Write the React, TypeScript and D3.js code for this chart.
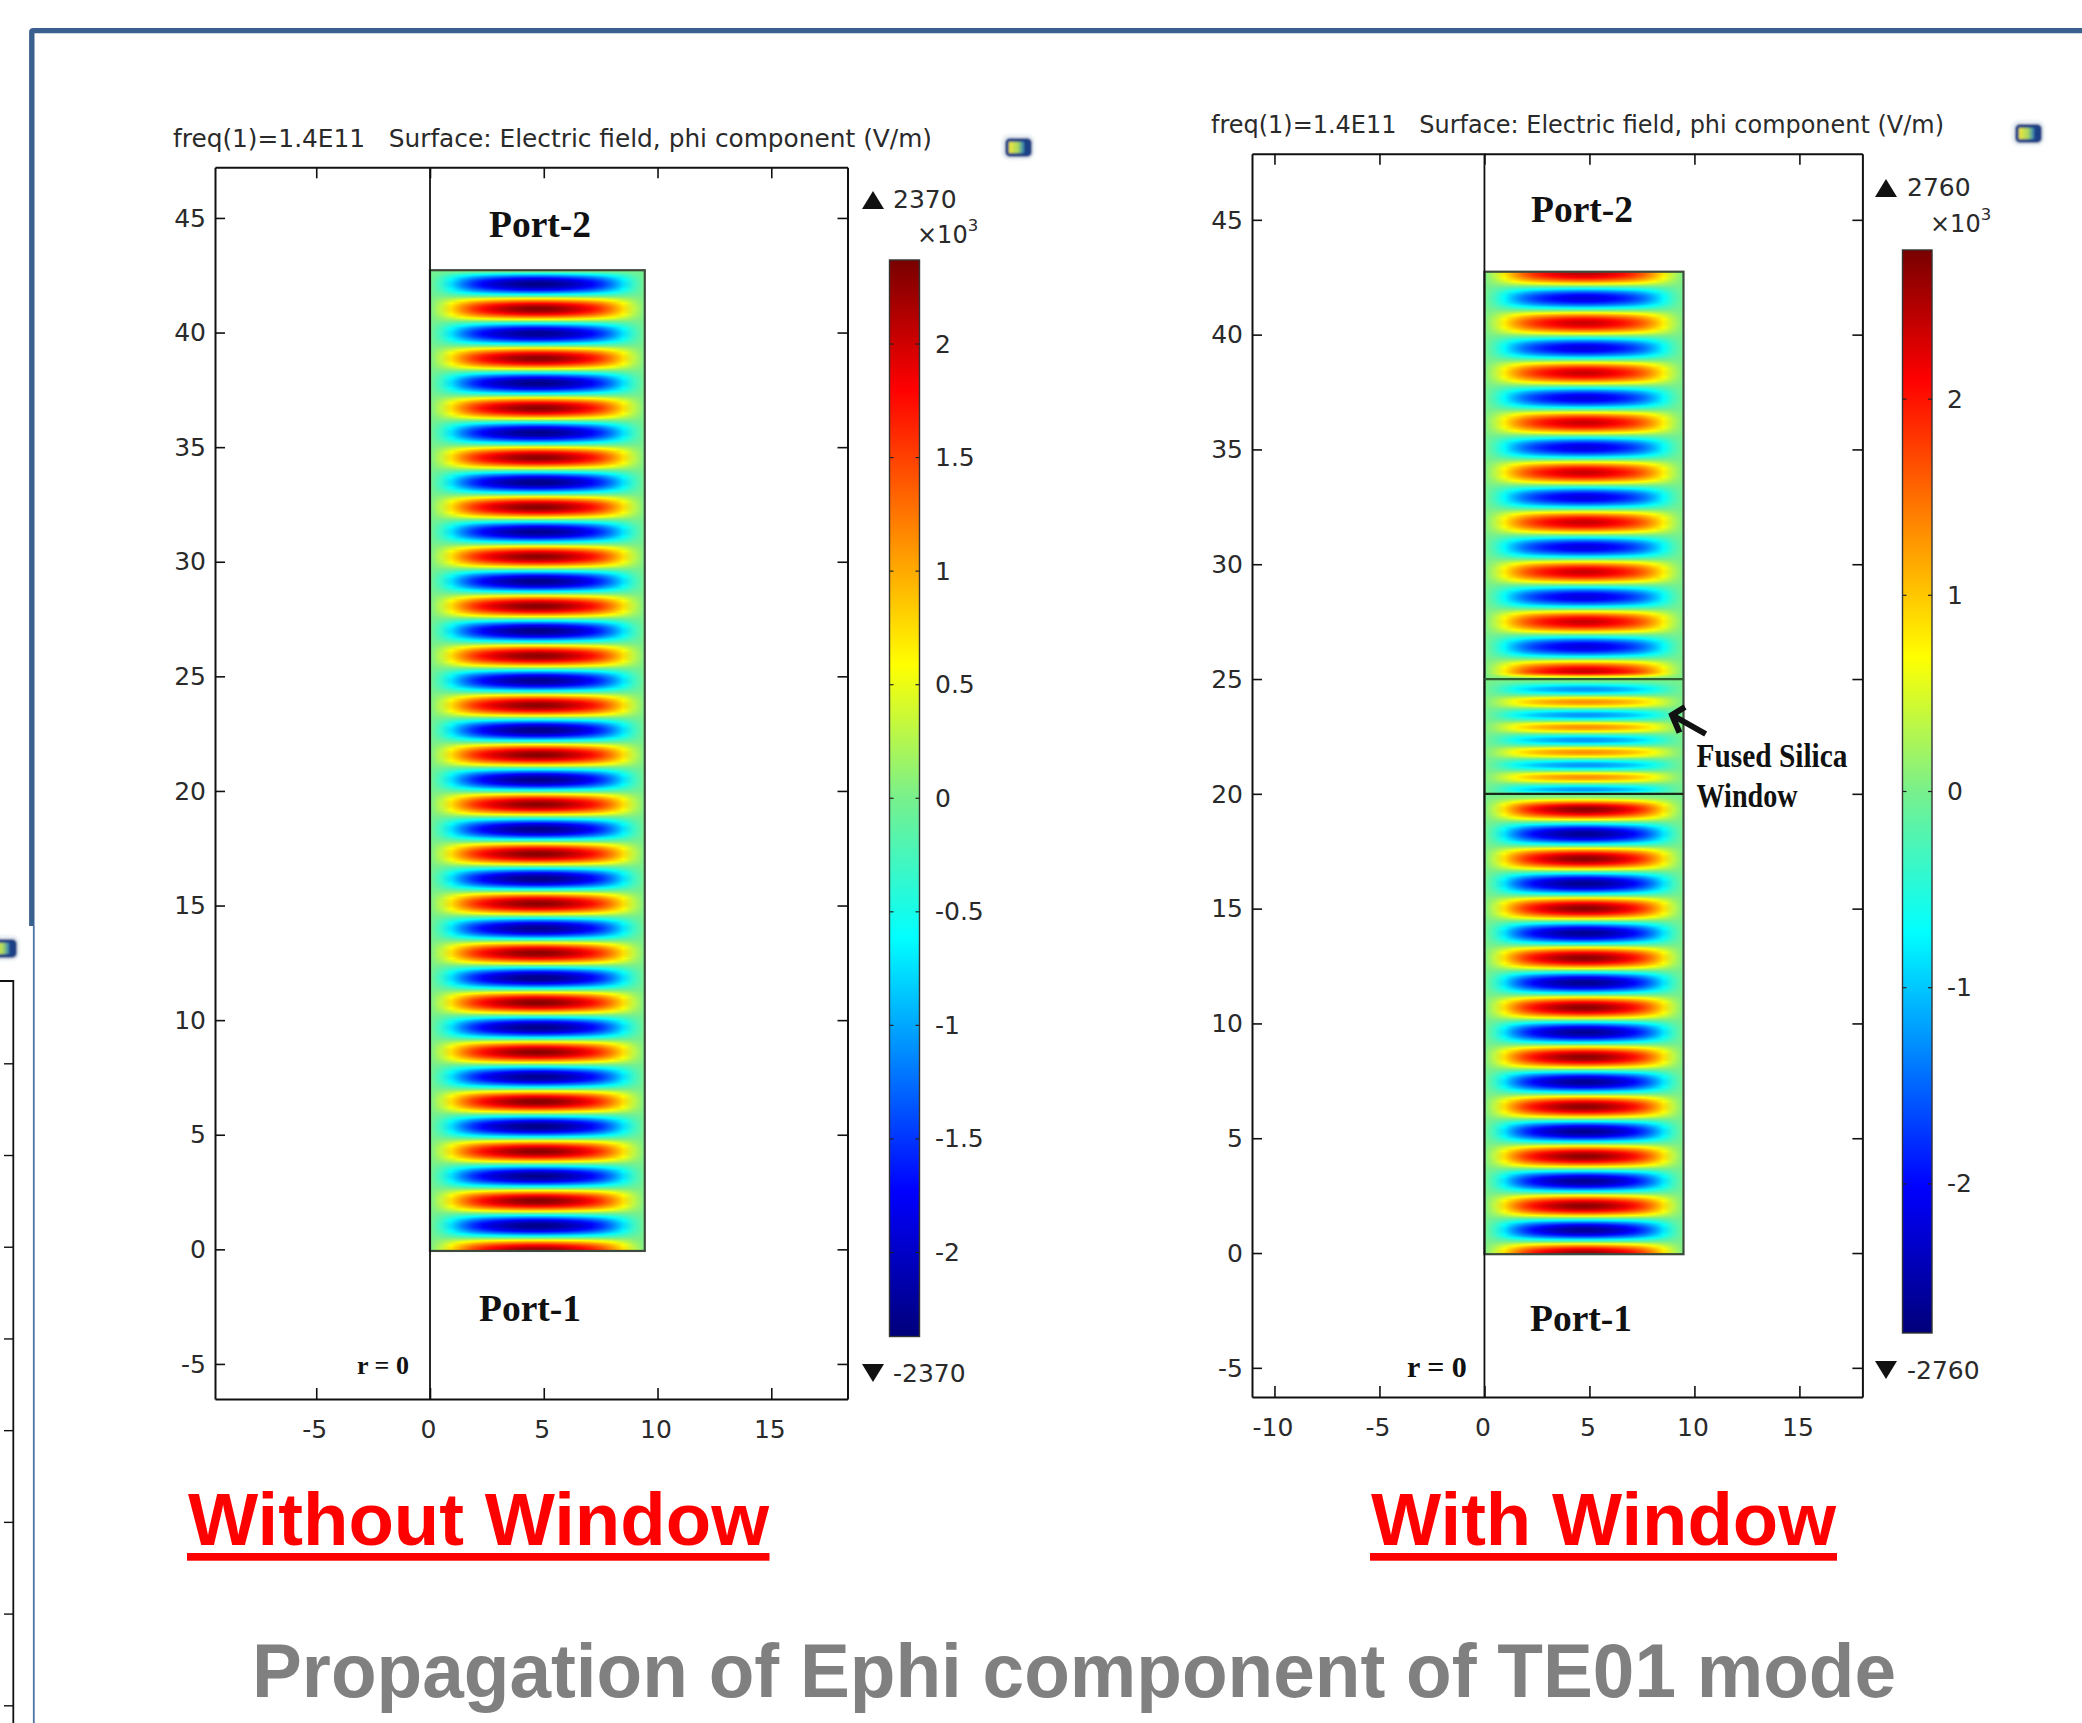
import { useEffect, useRef } from "react";
import * as d3 from "d3";

// Lobe centres (axial position, same units as the y axis) and peak field, x10^3 V/m
const leftBandZ = [
  -0.05, 1.03, 2.11, 3.19, 4.27, 5.36, 6.44, 7.52, 8.6, 9.68, 10.76, 11.84, 12.92, 14.0,
  15.08, 16.17, 17.25, 18.33, 19.41, 20.49, 21.57, 22.65, 23.73, 24.81, 25.89, 26.98, 28.06,
  29.14, 30.22, 31.3, 32.38, 33.46, 34.54, 35.62, 36.7, 37.79, 38.87, 39.95, 41.03, 42.11, 43.19,
];
const leftBandPeak = [
  2.25, -2.3, 2.3, -2.28, 2.28, -2.3, 2.3, -2.25, 2.28, -2.28, 2.3, -2.3, 2.28, -2.25,
  2.28, -2.3, 2.3, -2.28, 2.28, -2.28, 2.3, -2.3, 2.28, -2.25, 2.28, -2.3, 2.3, -2.28,
  2.28, -2.25, 2.3, -2.3, 2.28, -2.28, 2.28, -2.3, 2.28, -2.25, 2.3, -2.3, 2.2,
];
const rightBandZ = [
  -0.03, 1.0, 2.05, 3.13, 4.21, 5.29, 6.37, 7.45, 8.53, 9.61, 10.69, 11.77, 12.85, 13.93,
  15.01, 16.09, 17.17, 18.25, 19.33, 19.95,
  20.17, 20.72, 21.25, 21.81, 22.34, 22.9, 23.43, 24.0, 24.55, 24.97,
  25.32, 26.4, 27.49, 28.57, 29.66, 30.74, 31.82, 32.91, 33.99, 35.08, 36.16, 37.24,
  38.33, 39.41, 40.5, 41.58, 42.66, 43.74,
];
const rightBandPeak = [
  2.6, -2.6, 2.65, -2.6, 2.65, -2.62, 2.65, -2.6, 2.65, -2.6, 2.65, -2.62, 2.65, -2.6,
  2.65, -2.62, 2.65, -2.6, 2.65, 0,
  -1.25, 1.3, -1.25, 1.3, -1.25, 1.3, -1.25, 1.3, -1.25, 0,
  2.35, -2.2, 2.35, -2.2, 2.35, -2.2, 2.35, -2.2, 2.35, -2.2, 2.35, -2.2,
  2.35, -2.2, 2.35, -2.2, 2.4, -2.2,
];

// Cross-section of one lobe, fraction of the guide radius -> fraction of its peak
const radialU = [
  0, 0.05, 0.1, 0.15, 0.2, 0.25, 0.3, 0.35, 0.4, 0.45, 0.5,
  0.55, 0.6, 0.65, 0.7, 0.75, 0.8, 0.85, 0.9, 0.95, 1,
];
const radialShape = [
  0, 0.14, 0.33, 0.51, 0.66, 0.77, 0.85, 0.91, 0.96, 0.99, 1,
  0.99, 0.96, 0.91, 0.85, 0.77, 0.66, 0.51, 0.33, 0.14, 0,
];

// Colour table (fraction of the range)
const colorPos = [0, 0.135, 0.37, 0.5, 0.624, 0.75, 0.88, 1];
const colorHex = ["#00007a", "#0000ff", "#00ffff", "#78f08c", "#ffff00", "#ff8400", "#ff0000", "#780000"];

const leftXTicks = [-5, 0, 5, 10, 15];
const rightXTicks = [-10, -5, 0, 5, 10, 15];
const yTicks = [-5, 0, 5, 10, 15, 20, 25, 30, 35, 40, 45];
const leftBarTicks = [-2, -1.5, -1, -0.5, 0, 0.5, 1, 1.5, 2];
const rightBarTicks = [-2, -1, 0, 1, 2];
const cutOffTicks = [0, 1, 2, 3, 4, 5, 6, 7];

const textColor = "#2a2a2a";
const sansFont = "'DejaVu Sans', sans-serif";
const serifFont = "'Liberation Serif', serif";
const boldSans = "'Liberation Sans', Arial, sans-serif";

type PlotCfg = {
  id: string;
  frame: { x0: number; x1: number; y0: number; y1: number };
  xDomain: [number, number];
  yDomain: [number, number];
  xTicks: number[];
  guideR: number;
  guideTop: number;
  guideBottom: number;
  bandZ: number[];
  bandPeak: number[];
  maxLabel: number;
  title: { x: number; y: number; size: number; width: number };
  bar: { x0: number; x1: number; top: number; bottom: number; ticks: number[]; labelX: number };
  marks: { x: number; upY: number; downY: number; textX: number; upText: number; downText: number };
  exp: { x: number; y: number };
  rZero: { x: number; y: number; size: number };
  port2: { x: number; y: number };
  port1: { x: number; y: number };
  labelSize: number;
};

const color = d3.scaleLinear<string>().domain(colorPos).range(colorHex).clamp(true);

const drawPlot = (svg: any, cfg: PlotCfg) => {
  const { frame, bar, marks } = cfg;
  const x = d3.scaleLinear().domain(cfg.xDomain).range([frame.x0, frame.x1]);
  const y = d3.scaleLinear().domain(cfg.yDomain).range([frame.y1, frame.y0]);
  const g = svg.append("g");

  // Title
  g.append("text")
    .attr("x", cfg.title.x)
    .attr("y", cfg.title.y)
    .attr("font-family", sansFont)
    .attr("font-size", cfg.title.size)
    .attr("fill", textColor)
    .attr("textLength", cfg.title.width)
    .attr("lengthAdjust", "spacingAndGlyphs")
    .style("white-space", "pre")
    .text("freq(1)=1.4E11   Surface: Electric field, phi component (V/m)");

  // Field: one horizontal gradient per pixel row of the guide
  const defs = svg.append("defs");
  const phase = d3
    .scaleLinear()
    .domain(cfg.bandZ)
    .range(d3.range(cfg.bandZ.length))
    .clamp(true);
  const rowAmp = (z: number) => {
    const p = phase(z);
    const i = Math.min(Math.floor(p), cfg.bandZ.length - 2);
    return d3.interpolateNumber(cfg.bandPeak[i], cfg.bandPeak[i + 1])(d3.easeSinInOut(p - i));
  };
  const rows = d3.range(Math.round(y(cfg.guideTop)), Math.round(y(cfg.guideBottom)));
  const field = g.append("g").attr("shape-rendering", "crispEdges");
  rows.forEach((row) => {
    const amp = rowAmp(y.invert(row + 0.5));
    const id = `${cfg.id}-row-${row}`;
    const grad = defs.append("linearGradient").attr("id", id);
    radialU.forEach((u, k) => {
      grad
        .append("stop")
        .attr("offset", u)
        .attr("stop-color", color((((amp * radialShape[k]) / cfg.maxLabel) + 1) / 2));
    });
    field
      .append("rect")
      .attr("x", x(0))
      .attr("y", row)
      .attr("width", x(cfg.guideR) - x(0))
      .attr("height", 1)
      .attr("fill", `url(#${id})`);
  });

  // Guide outline
  g.append("rect")
    .attr("x", x(0))
    .attr("y", y(cfg.guideTop))
    .attr("width", x(cfg.guideR) - x(0))
    .attr("height", y(cfg.guideBottom) - y(cfg.guideTop))
    .attr("fill", "none")
    .attr("stroke", "#3d4a3d")
    .attr("stroke-width", 2.2);

  // Frame and axes
  const style = (sel: any, size: number) => {
    sel.selectAll("text").attr("font-family", sansFont).attr("font-size", size).attr("fill", textColor);
    sel.selectAll("line").attr("stroke", "#111").attr("stroke-width", 1.6);
    sel.selectAll("path").attr("stroke", "#111").attr("stroke-width", 2);
  };
  const axis = (gen: any, tx: number, ty: number, showText: boolean) => {
    const a = g.append("g").attr("transform", `translate(${tx},${ty})`).call(gen);
    style(a, cfg.labelSize);
    if (!showText) a.selectAll("text").remove();
    return a;
  };
  const fmt = (d: number) => String(d);
  axis(d3.axisBottom(x).tickValues(cfg.xTicks).tickSizeInner(-11).tickSizeOuter(0).tickPadding(21).tickFormat(fmt), 0, frame.y1, true)
    .selectAll("text")
    .attr("dx", -2);
  axis(d3.axisTop(x).tickValues(cfg.xTicks).tickSizeInner(-11).tickSizeOuter(0), 0, frame.y0, false);
  axis(d3.axisLeft(y).tickValues(yTicks).tickSizeInner(-10).tickSizeOuter(0).tickPadding(9).tickFormat(fmt), frame.x0, 0, true)
    .selectAll("text")
    .attr("dy", "0.33em");
  axis(d3.axisRight(y).tickValues(yTicks).tickSizeInner(-10).tickSizeOuter(0), frame.x1, 0, false);

  // r = 0 line
  g.append("line")
    .attr("x1", x(0))
    .attr("x2", x(0))
    .attr("y1", frame.y0)
    .attr("y2", frame.y1)
    .attr("stroke", "#111")
    .attr("stroke-width", 1.8);

  // Colour bar
  const barY = d3.scaleLinear().domain([-cfg.maxLabel, cfg.maxLabel]).range([bar.bottom, bar.top]);
  const barGrad = defs
    .append("linearGradient")
    .attr("id", `${cfg.id}-bar`)
    .attr("x1", 0)
    .attr("x2", 0)
    .attr("y1", 1)
    .attr("y2", 0);
  colorPos.forEach((p, k) => {
    barGrad.append("stop").attr("offset", p).attr("stop-color", colorHex[k]);
  });
  g.append("rect")
    .attr("x", bar.x0)
    .attr("y", bar.top)
    .attr("width", bar.x1 - bar.x0)
    .attr("height", bar.bottom - bar.top)
    .attr("fill", `url(#${cfg.id}-bar)`)
    .attr("stroke", "#333")
    .attr("stroke-width", 1.4);
  bar.ticks.forEach((t) => {
    [
      [bar.x0, bar.x0 + 4],
      [bar.x1 - 4, bar.x1],
    ].forEach(([a, b]) => {
      g.append("line")
        .attr("x1", a)
        .attr("x2", b)
        .attr("y1", barY(t))
        .attr("y2", barY(t))
        .attr("stroke", "#222")
        .attr("stroke-width", 1.2);
    });
  });
  const barAxis = g
    .append("g")
    .attr("transform", `translate(${bar.labelX},0)`)
    .call(d3.axisRight(barY).tickValues(bar.ticks).tickSize(0).tickPadding(0).tickFormat(fmt));
  barAxis.select(".domain").remove();
  style(barAxis, cfg.labelSize);
  barAxis.selectAll("text").attr("dy", "0.32em");

  // Max / min markers
  const tri = (xc: number, yTop: number, up: boolean) => {
    const w = 11;
    const h = 18;
    const pts = up
      ? [[xc - w, yTop + h], [xc + w, yTop + h], [xc, yTop]]
      : [[xc - w, yTop], [xc + w, yTop], [xc, yTop + h]];
    g.append("polygon").attr("points", pts.join(" ")).attr("fill", "#111");
  };
  tri(marks.x, marks.upY - 17, true);
  tri(marks.x, marks.downY - 18, false);
  const label = (tx: number, ty: number, t: string | number) =>
    g
      .append("text")
      .attr("x", tx)
      .attr("y", ty)
      .attr("font-family", sansFont)
      .attr("font-size", cfg.labelSize)
      .attr("fill", textColor)
      .text(t);
  label(marks.textX, marks.upY, marks.upText);
  label(marks.textX, marks.downY, marks.downText);
  const ex = label(cfg.exp.x, cfg.exp.y, "×10").attr("font-size", cfg.labelSize - 1);
  ex.append("tspan").attr("dy", -12).attr("font-size", cfg.labelSize * 0.66).text("3");

  // Annotations on the plot
  const serif = (tx: number, ty: number, t: string, size: number, width?: number) => {
    const el = g
      .append("text")
      .attr("x", tx)
      .attr("y", ty)
      .attr("font-family", serifFont)
      .attr("font-weight", "bold")
      .attr("font-size", size)
      .attr("fill", "#111")
      .style("white-space", "pre")
      .text(t);
    if (width) el.attr("textLength", width).attr("lengthAdjust", "spacingAndGlyphs");
    return el;
  };
  serif(cfg.port2.x, cfg.port2.y, "Port-2", 37, 102);
  serif(cfg.port1.x, cfg.port1.y, "Port-1", 37, 102);
  serif(cfg.rZero.x, cfg.rZero.y, "r = 0", cfg.rZero.size);

  return { x, y, g, serif };
};

const drawIcon = (svg: any, cx: number, cy: number) => {
  const g = svg.append("g").attr("transform", `translate(${cx},${cy})`).attr("filter", "url(#icon-soft)");
  g.append("rect").attr("x", -17).attr("y", -13).attr("width", 34).attr("height", 26).attr("rx", 8).attr("fill", "#dfe7ef").attr("opacity", 0.6);
  g.append("rect").attr("x", -13).attr("y", -9).attr("width", 27).attr("height", 19).attr("rx", 5).attr("fill", "#1c3f86");
  g.append("rect").attr("x", -9).attr("y", -5).attr("width", 15).attr("height", 11).attr("fill", "url(#icon-fill)");
};

const App = () => {
  const svgRef = useRef<SVGSVGElement | null>(null);

  useEffect(() => {
    d3.select(svgRef.current).selectAll("*").remove();
    const svg = d3.select(svgRef.current).attr("width", 2082).attr("height", 1723);

    const iconDefs = svg.append("defs");
    const iconGrad = iconDefs.append("linearGradient").attr("id", "icon-fill");
    iconGrad.append("stop").attr("offset", 0).attr("stop-color", "#f2e63a");
    iconGrad.append("stop").attr("offset", 0.6).attr("stop-color", "#a8d860");
    iconGrad.append("stop").attr("offset", 1).attr("stop-color", "#2f80c0");
    iconDefs.append("filter").attr("id", "icon-soft").append("feGaussianBlur").attr("stdDeviation", 1);

    // Slide border
    svg
      .append("path")
      .attr("d", "M31.8 926 V32 Q31.8 30.6 33.5 30.6 H2082")
      .attr("fill", "none")
      .attr("stroke", "#3a6090")
      .attr("stroke-width", 5.4);
    svg
      .append("line")
      .attr("x1", 33.8)
      .attr("x2", 33.8)
      .attr("y1", 926)
      .attr("y2", 1723)
      .attr("stroke", "#4d74a6")
      .attr("stroke-width", 1.8);

    // Edge of the plot that is cut off at the left
    const cutY = d3.scaleLinear().domain([0, 7]).range([1063.8, 1705.8]);
    svg
      .append("path")
      .attr("d", "M0 981 H13.3 V1723")
      .attr("fill", "none")
      .attr("stroke", "#111")
      .attr("stroke-width", 1.8);
    cutOffTicks.forEach((t) => {
      svg
        .append("line")
        .attr("x1", 4)
        .attr("x2", 13)
        .attr("y1", cutY(t))
        .attr("y2", cutY(t))
        .attr("stroke", "#111")
        .attr("stroke-width", 1.4);
    });
    drawIcon(svg, 3, 948);

    drawPlot(svg, {
      id: "left",
      frame: { x0: 215, x1: 847.5, y0: 167.3, y1: 1399 },
      xDomain: [-9.45, 18.35],
      yDomain: [-6.53, 47.21],
      xTicks: leftXTicks,
      guideR: 9.44,
      guideTop: 42.72,
      guideBottom: -0.07,
      bandZ: leftBandZ,
      bandPeak: leftBandPeak,
      maxLabel: 2.37,
      title: { x: 173, y: 147, size: 24, width: 759 },
      bar: { x0: 889.5, x1: 919.5, top: 260, bottom: 1336.5, ticks: leftBarTicks, labelX: 935 },
      marks: { x: 873, upY: 208, downY: 1382, textX: 893, upText: 2370, downText: -2370 },
      exp: { x: 917, y: 243 },
      rZero: { x: 357, y: 1374, size: 26 },
      port2: { x: 489, y: 237 },
      port1: { x: 479, y: 1321 },
      labelSize: 25,
    });

    const right = drawPlot(svg, {
      id: "right",
      frame: { x0: 1252, x1: 1862.4, y0: 153.7, y1: 1397 },
      xDomain: [-11.07, 18],
      yDomain: [-6.27, 47.88],
      xTicks: rightXTicks,
      guideR: 9.48,
      guideTop: 42.74,
      guideBottom: -0.05,
      bandZ: rightBandZ,
      bandPeak: rightBandPeak,
      maxLabel: 2.76,
      title: { x: 1211, y: 133, size: 24, width: 733 },
      bar: { x0: 1902.5, x1: 1932, top: 250, bottom: 1333, ticks: rightBarTicks, labelX: 1947 },
      marks: { x: 1886, upY: 196, downY: 1379, textX: 1907, upText: 2760, downText: -2760 },
      exp: { x: 1930, y: 232 },
      rZero: { x: 1407, y: 1377, size: 30 },
      port2: { x: 1531, y: 222 },
      port1: { x: 1530, y: 1331 },
      labelSize: 25,
    });

    // Window boundaries, arrow and its label
    [
      { z: 25, stroke: "#2f5f2f" },
      { z: 20, stroke: "#1a2a1a" },
    ].forEach((b) => {
      right.g
        .append("line")
        .attr("x1", right.x(0))
        .attr("x2", right.x(9.48))
        .attr("y1", right.y(b.z))
        .attr("y2", right.y(b.z))
        .attr("stroke", b.stroke)
        .attr("stroke-width", 2.2);
    });
    right.g
      .append("path")
      .attr("d", "M1705.7 734 L1672 715 M1685 707 L1672 715 L1679.5 732.7")
      .attr("fill", "none")
      .attr("stroke", "#111")
      .attr("stroke-width", 6);
    right.serif(1696.5, 767, "Fused Silica", 33, 151);
    right.serif(1696.5, 807, "Window", 33, 101);

    // Captions
    const caption = (tx: number, ty: number, t: string, size: number, fill: string, width: number) =>
      svg
        .append("text")
        .attr("x", tx)
        .attr("y", ty)
        .attr("font-family", boldSans)
        .attr("font-weight", "bold")
        .attr("font-size", size)
        .attr("fill", fill)
        .attr("textLength", width)
        .attr("lengthAdjust", "spacingAndGlyphs")
        .text(t);
    caption(188, 1545, "Without Window", 74.3, "#ff0000", 581);
    caption(1371, 1545, "With Window", 74.3, "#ff0000", 465);
    caption(252, 1696.7, "Propagation of Ephi component of TE01 mode", 76, "#808080", 1644);
    svg.append("rect").attr("x", 187).attr("y", 1553).attr("width", 582.5).attr("height", 7.7).attr("fill", "#ff0000");
    svg.append("rect").attr("x", 1370).attr("y", 1553).attr("width", 467).attr("height", 7.7).attr("fill", "#ff0000");

    drawIcon(svg, 1018, 147);
    drawIcon(svg, 2028, 133);
  }, []);

  return <svg ref={svgRef} style={{ position: "absolute", left: 0, top: 0, display: "block" }}></svg>;
};

export default App;
